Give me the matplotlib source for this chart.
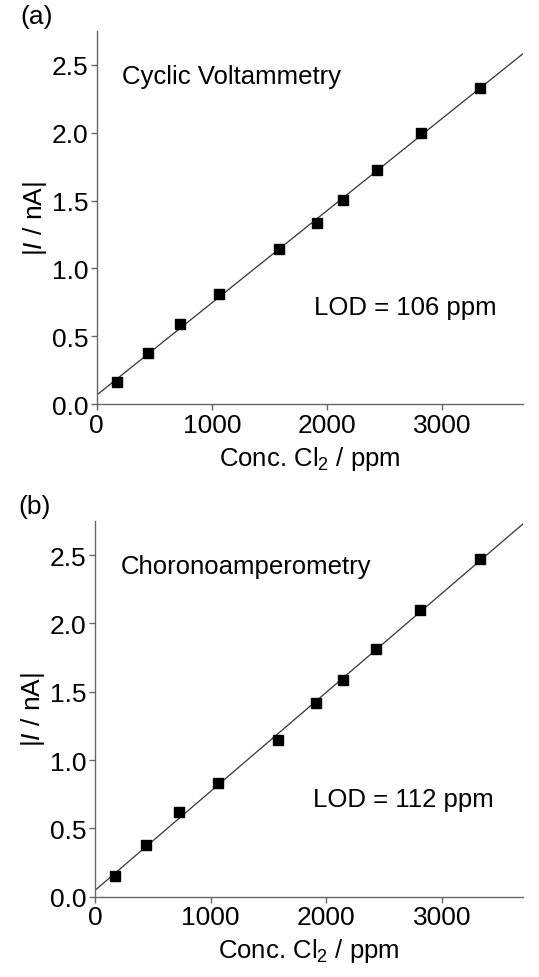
import numpy as np
import matplotlib.pyplot as plt

plt.rcParams['font.family'] = ['Liberation Sans', 'DejaVu Sans']
plt.rcParams['mathtext.fontset'] = 'custom'
plt.rcParams['mathtext.rm'] = 'Liberation Sans'
plt.rcParams['mathtext.it'] = 'Liberation Sans:italic'

conc = [173, 445, 725, 1066, 1584, 1916, 2142, 2431, 2815, 3329]
cv_current = [0.162, 0.377, 0.588, 0.809, 1.142, 1.331, 1.502, 1.721, 2.00, 2.328]
ca_current = [0.149, 0.377, 0.619, 0.835, 1.146, 1.418, 1.587, 1.812, 2.098, 2.468]

panels = [
    ('(a)', 'Cyclic Voltammetry', 'LOD = 106 ppm', cv_current),
    ('(b)', 'Choronoamperometry', 'LOD = 112 ppm', ca_current),
]

fig = plt.figure(figsize=(5.39, 9.78), dpi=100)
boxes = [[0.1794, 0.5856, 0.7903, 0.3820],
         [0.1763, 0.0821, 0.7934, 0.3842]]

axis_col = '#666666'
for box, (tag, method, lod, cur) in zip(boxes, panels):
    ax = fig.add_axes(box)
    x = np.array(conc)
    y = np.array(cur)
    m, b = np.polyfit(x, y, 1)
    xx = np.array([0, 3700])
    ax.plot(xx, m*xx + b, color='#333333', lw=0.9, zorder=2)
    ax.plot(x, y, 's', color='black', ms=7.2, zorder=3)

    ax.set_xlim(0, 3700)
    ax.set_ylim(0, 2.75)
    ax.set_xticks([0, 1000, 2000, 3000])
    ax.set_yticks([0, 0.5, 1.0, 1.5, 2.0, 2.5])
    ax.set_yticklabels(['0.0', '0.5', '1.0', '1.5', '2.0', '2.5'])
    for s in ['top', 'right']:
        ax.spines[s].set_visible(False)
    for s in ['left', 'bottom']:
        ax.spines[s].set_color(axis_col)
        ax.spines[s].set_linewidth(1.0)
    ax.tick_params(direction='out', length=4, width=1.0, color=axis_col,
                   labelsize=19, pad=2)
    ax.set_xlabel('Conc. Cl$_2$ / ppm', fontsize=18.5, labelpad=5)
    ax.set_ylabel('|$I$ / nA|', fontsize=19, labelpad=2)

    ax.text(0.06, 0.88, method, transform=ax.transAxes, fontsize=18.5,
            ha='left', va='center')
    ax.text(0.51, 0.26, lod, transform=ax.transAxes, fontsize=18.5,
            ha='left', va='center')
    ax.text(-0.18, 1.04, tag, transform=ax.transAxes, fontsize=19,
            ha='left', va='center')

fig.savefig('out.png', dpi=100)
